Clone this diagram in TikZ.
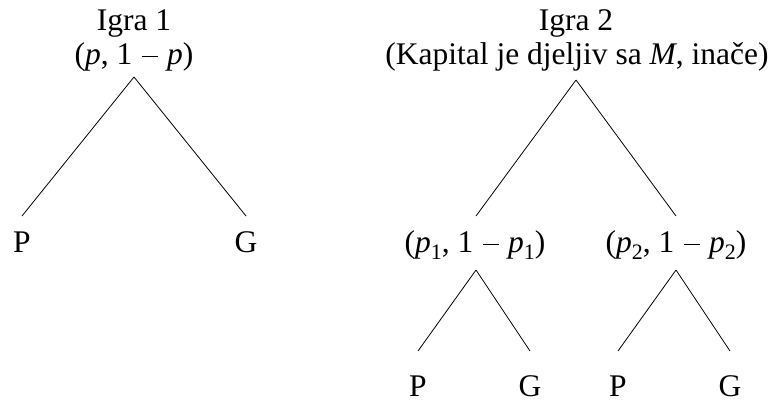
\documentclass[tikz,border=0pt]{standalone}
\usepackage{fontspec}
\usepackage{graphicx}
\setmainfont{Liberation Serif}
\newcommand\mysub[1]{\raisebox{-0.2em}{\scalebox{0.7}{#1}}}
\newcommand\mym{\hspace{0.3em}\raisebox{0.24em}{\rule{0.5em}{0.045em}}\hspace{0.3em}}
\begin{document}
\begin{tikzpicture}[x=1pt,y=-1pt,
  lbl/.style={font=\fontsize{31.5}{36}\selectfont, inner sep=0pt, anchor=base},
  edge/.style={line width=0.8pt, black}]
\useasboundingbox (0,0) rectangle (784,403);
% Game 1
\node[lbl] (t1) at (134,31) {Igra 1};
\node[lbl] (s1) at (134,65) {(\textit{p}, 1\mym\textit{p})};
\coordinate (a1) at (134,77);
\coordinate (e1l) at (22,216);
\coordinate (e1r) at (246,216);
\node[lbl] (P1) at (22,253) {P};
\node[lbl] (G1) at (246,253) {G};
\draw[edge] (a1) -- (e1l);
\draw[edge] (a1) -- (e1r);
% Game 2
\node[lbl] (t2) at (576,31) {Igra 2};
\node[lbl] (s2) at (577,65) {(Kapital je djeljiv sa \textit{M}, inače)};
\coordinate (a2) at (576,80);
\coordinate (e2l) at (476,216);
\coordinate (e2r) at (676,216);
\draw[edge] (a2) -- (e2l);
\draw[edge] (a2) -- (e2r);
\node[lbl] (n1) at (475,253) {(\textit{p}\mysub{1}, 1\mym\textit{p}\mysub{1})};
\node[lbl] (n2) at (676,253) {(\textit{p}\mysub{2}, 1\mym\textit{p}\mysub{2})};
\coordinate (b1) at (476,270);
\coordinate (b2) at (676,270);
\coordinate (f1l) at (418,351);
\coordinate (f1r) at (530,351);
\coordinate (f2l) at (618,351);
\coordinate (f2r) at (730,351);
\draw[edge] (b1) -- (f1l);
\draw[edge] (b1) -- (f1r);
\draw[edge] (b2) -- (f2l);
\draw[edge] (b2) -- (f2r);
\node[lbl] (P2) at (418,396) {P};
\node[lbl] (G2) at (530,396) {G};
\node[lbl] (P3) at (618,396) {P};
\node[lbl] (G3) at (730,396) {G};
\end{tikzpicture}
\end{document}
